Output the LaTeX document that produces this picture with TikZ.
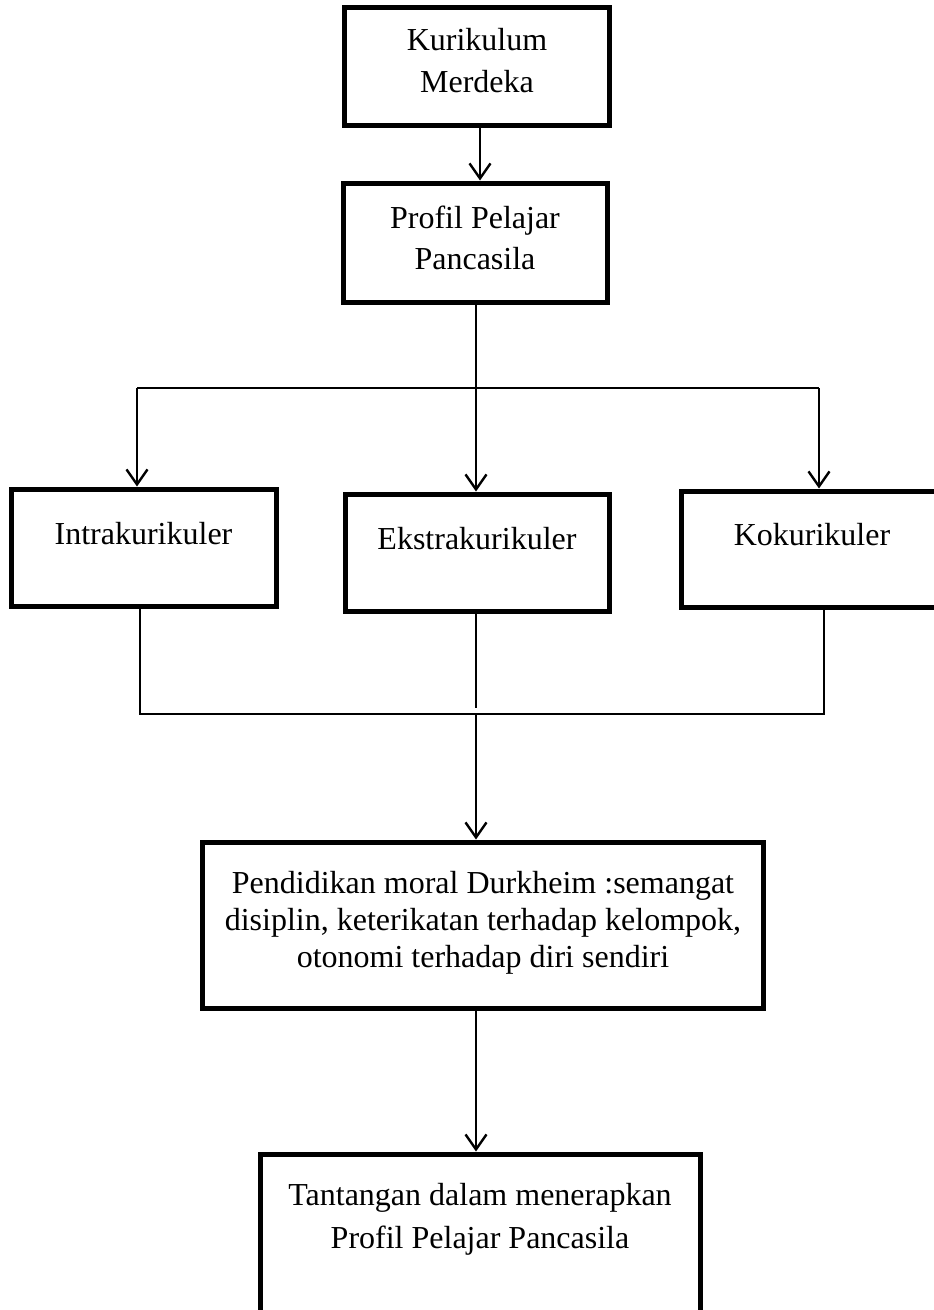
\documentclass[tikz,border=0pt]{standalone}
\usepackage{fontspec}
\setmainfont{Liberation Serif}
\usetikzlibrary{arrows.meta}
\begin{document}
\begin{tikzpicture}[x=1pt,y=-1pt,
  box/.style={draw,line width=5pt,inner sep=0pt},
  txt/.style={inner sep=0pt,align=center,font=\fontsize{32}{#1}\selectfont},
  txt/.default=37,
  arr/.style={line width=2.4pt,-{Straight Barb[length=15pt,width=21pt]}},
  thin/.style={line width=1.5pt}]
\fill[white] (0,0) rectangle (934,1310);
\useasboundingbox (0,0) rectangle (934,1310);
\clip (0,0) rectangle (934,1310);
% boxes
\node[box,minimum width=265pt,minimum height=118pt] (km) at (476.5,66) {};
\node[box,minimum width=264pt,minimum height=119pt] (pp) at (475,242.5) {};
\node[box,minimum width=265pt,minimum height=117pt] (in) at (143.5,547.5) {};
\node[box,minimum width=264pt,minimum height=117pt] (ek) at (477,552.5) {};
\node[box,minimum width=265pt,minimum height=116pt] (ko) at (813.5,549) {};
\node[box,minimum width=561pt,minimum height=166pt] (pd) at (482.5,925) {};
\node[box,minimum width=440pt,minimum height=176pt] (tt) at (480,1242) {};
% texts
\node[txt=42] (kmt) at (477,61) {Kurikulum\\Merdeka};
\node[txt=41] (ppt) at (475,238) {Profil Pelajar\\Pancasila};
\node[txt,anchor=base] (int) at (143.5,544) {Intrakurikuler};
\node[txt,anchor=base] (ekt) at (477,549) {Ekstrakurikuler};
\node[txt,anchor=base] (kot) at (812,545) {Kokurikuler};
\node[txt=37] (pdt) at (483,923) {Pendidikan moral Durkheim :semangat\\disiplin, keterikatan terhadap kelompok,\\otonomi terhadap diri sendiri};
\node[txt=43] (ttt) at (480,1219) {Tantangan dalam menerapkan\\Profil Pelajar Pancasila};
% connectors
\coordinate (ja) at (480,0);
\coordinate (jm) at (476,388);
\coordinate (jl) at (137,388);
\coordinate (jr) at (819,388);
\coordinate (kl) at (140,714);
\coordinate (km2) at (476,714);
\coordinate (kr) at (824,714);
\coordinate (kg) at (476,708);
\draw[arr] (ja |- km.south) -- (ja |- pp.north);
\draw[arr] (jm |- pp.south) -- (jm |- ek.north);
\draw[line width=1.8pt] (jl) -- (jr);
\draw[arr] (jl) -- (jl |- in.north);
\draw[arr] (jr) -- (jr |- ko.north);
\draw[thin] (kl |- in.south) -- (kl) -- (kr) -- (kr |- ko.south);
\draw[thin] (kg |- ek.south) -- (kg);
\draw[arr] (km2) -- (km2 |- pd.north);
\draw[arr] (km2 |- pd.south) -- (km2 |- tt.north);
\end{tikzpicture}
\end{document}
